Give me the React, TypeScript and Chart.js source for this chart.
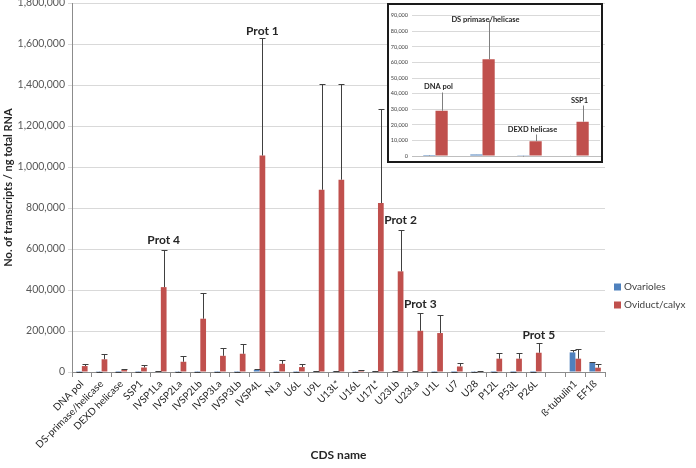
import React, { useEffect, useRef } from "react";
import { Chart, registerables } from "chart.js";
Chart.register(...registerables);

const FONT = "Lato, 'Open Sans', sans-serif";
const BLUE = "#4F81BD";
const RED = "#C0504D";

const categories = [
  "DNA pol", "DS-primase/helicase", "DEXD helicase", "SSP1", "IVSP1La", "IVSP2La", "IVSP2Lb",
  "IVSP3La", "IVSP3Lb", "IVSP4L", "NLa", "U6L", "U9L", "U13L*", "U16L", "U17L*", "U23Lb",
  "U23La", "U1L", "U7", "U28", "P12L", "P53L", "P26L", "", "ß-tubulin1", "EF1ß",
];
const ovarioles = [
  600, 900, 100, 400, 4000, 1000, 500, 500, 500, 10000, 500, 500, 5000, 5000, 1000, 5000, 3000,
  3000, 500, 200, 1000, 200, 200, 200, 0, 95600, 44000,
];
const ovariolesErrTop = [
  800, 1200, 150, 500, 5000, 1300, 700, 700, 700, 14000, 700, 700, 7000, 7000, 1500, 7000, 4000,
  4000, 700, 300, 1500, 300, 300, 300, 0, 107000, 50000,
];
const oviduct = [
  29000, 62000, 9500, 22000, 414000, 50000, 260000, 79000, 89000, 1056000, 40000, 24000, 889000,
  938000, 7000, 824000, 491000, 201000, 190000, 27000, 2500, 65000, 65000, 94000, 0, 65000, 21000,
];
const oviductErrTop = [
  41000, 87000, 14000, 33000, 597000, 76000, 385000, 117000, 138000, 1627000, 60000, 37000,
  1406000, 1406000, 12000, 1283000, 693000, 288000, 276000, 44000, 3500, 93000, 92000, 141000, 0,
  114000, 37000,
];

const protLabels = ["Prot 1", "Prot 4", "Prot 2", "Prot 3", "Prot 5"];
const protCategory = ["IVSP4L", "IVSP1La", "U23Lb", "U23La", "P26L"];
const protValue = [1665000, 645000, 743000, 333000, 182000];

const insetCategories = ["DNA pol", "DS primase/helicase", "DEXD helicase", "SSP1"];
const insetOvarioles = [600, 900, 100, 400];
const insetOvariolesErrTop = [800, 1200, 150, 500];
const insetOviduct = [29000, 62000, 9500, 22000];
const insetOviductErrTop = [41000, 87000, 14000, 33000];
const insetLabelValue = [44300, 87200, 16700, 35300];

const yTicksMain = { min: 0, max: 1800000, step: 200000 };
const yTicksInset = { min: 0, max: 90000, step: 10000 };

function makeErrorPlugin(errs: number[][], cap: number, color: string) {
  return {
    id: "errbars",
    afterDatasetsDraw(chart: any) {
      const ctx = chart.ctx;
      const ys = chart.scales.y;
      chart.data.datasets.forEach((ds: any, i: number) => {
        const meta = chart.getDatasetMeta(i);
        meta.data.forEach((el: any, j: number) => {
          const top = errs[i][j];
          const v = ds.data[j];
          if (!top || top <= v) return;
          const x = Math.round(el.x) + 0.5;
          const y0 = ys.getPixelForValue(v);
          const y1 = Math.round(ys.getPixelForValue(top)) + 0.5;
          ctx.save();
          ctx.strokeStyle = color;
          ctx.lineWidth = 1;
          ctx.beginPath();
          ctx.moveTo(x, y0);
          ctx.lineTo(x, y1);
          ctx.moveTo(x - cap, y1);
          ctx.lineTo(x + cap, y1);
          ctx.stroke();
          ctx.restore();
        });
      });
    },
  };
}

export default function App() {
  const mainRef = useRef<HTMLCanvasElement>(null);
  const insetRef = useRef<HTMLCanvasElement>(null);

  useEffect(() => {
    document.body.style.margin = "0";
    const fmt = (v: any) => Number(v).toLocaleString("en-US");

    const mainLabels = {
      id: "mainLabels",
      afterDraw(chart: any) {
        const ctx = chart.ctx;
        const ys = chart.scales.y;
        const meta = chart.getDatasetMeta(1);
        ctx.save();
        ctx.font = `bold 12px ${FONT}`;
        ctx.fillStyle = "#262626";
        ctx.textAlign = "center";
        ctx.textBaseline = "middle";
        protLabels.forEach((t, k) => {
          const idx = categories.indexOf(protCategory[k]);
          const x = meta.data[idx].x;
          ctx.fillText(t, x, ys.getPixelForValue(protValue[k]));
        });
        const items = [
          { t: "Ovarioles", c: BLUE },
          { t: "Oviduct/calyx", c: RED },
        ];
        ctx.font = `10px ${FONT}`;
        ctx.textAlign = "left";
        items.forEach((it, k) => {
          const yy = 287 + k * 18;
          ctx.fillStyle = it.c;
          ctx.fillRect(614, yy - 3.5, 7, 7);
          ctx.fillStyle = "#404040";
          ctx.fillText(it.t, 624, yy);
        });
        ctx.restore();
      },
    };

    const main = new Chart(mainRef.current as HTMLCanvasElement, {
      type: "bar",
      data: {
        labels: categories,
        datasets: [
          { label: "Ovarioles", data: ovarioles, backgroundColor: BLUE, categoryPercentage: 0.58, barPercentage: 1 },
          { label: "Oviduct/calyx", data: oviduct, backgroundColor: RED, categoryPercentage: 0.58, barPercentage: 1 },
        ],
      },
      options: {
        animation: false,
        responsive: false,
        devicePixelRatio: 1,
        layout: { padding: { left: 0, right: 91, top: 3, bottom: 0 } },
        plugins: { legend: { display: false }, tooltip: { enabled: false } },
        scales: {
          x: {
            offset: true,
            afterFit: (s: any) => {
              s.height = 96;
              s.paddingLeft = 0;
              s.paddingRight = 0;
            },
            grid: { display: true, drawOnChartArea: false, offset: true, tickLength: 5, color: "#8c8c8c" },
            border: { color: "#8c8c8c" },
            ticks: { autoSkip: false, maxRotation: 45, minRotation: 45, font: { family: FONT, size: 10 }, color: "#262626", padding: 1 },
            title: { display: true, text: "CDS name", font: { family: FONT, size: 12, weight: "bold" }, color: "#262626", padding: { top: 0, bottom: 6 } },
          },
          y: {
            min: yTicksMain.min,
            max: yTicksMain.max,
            afterFit: (s: any) => {
              s.width = 72;
              s.paddingTop = 0;
              s.paddingBottom = 0;
            },
            ticks: { stepSize: yTicksMain.step, callback: fmt, font: { family: FONT, size: 10.5 }, color: "#595959", padding: 3 },
            grid: { color: "#d9d9d9", tickLength: 4 },
            border: { color: "#8c8c8c" },
            title: { display: true, text: "No. of transcripts / ng total RNA", font: { family: FONT, size: 11, weight: "bold" }, color: "#262626", padding: { top: 2, bottom: 0 } },
          },
        },
      },
      plugins: [makeErrorPlugin([ovariolesErrTop, oviductErrTop], 3, "#404040"), mainLabels],
    } as any);

    const insetLabels = {
      id: "insetLabels",
      afterDraw(chart: any) {
        const ctx = chart.ctx;
        const ys = chart.scales.y;
        const xs = chart.scales.x;
        ctx.save();
        ctx.font = `bold 7.5px ${FONT}`;
        ctx.fillStyle = "#262626";
        ctx.textAlign = "center";
        ctx.textBaseline = "middle";
        insetCategories.forEach((t, k) => {
          ctx.fillText(t, xs.getPixelForValue(k) + 3, ys.getPixelForValue(insetLabelValue[k]));
        });
        ctx.restore();
      },
    };

    const inset = new Chart(insetRef.current as HTMLCanvasElement, {
      type: "bar",
      data: {
        labels: insetCategories,
        datasets: [
          { label: "Ovarioles", data: insetOvarioles, backgroundColor: BLUE, categoryPercentage: 0.52, barPercentage: 1 },
          { label: "Oviduct/calyx", data: insetOviduct, backgroundColor: RED, categoryPercentage: 0.52, barPercentage: 1 },
        ],
      },
      options: {
        animation: false,
        responsive: false,
        devicePixelRatio: 1,
        layout: { padding: { left: 0, right: 1, top: 10.7, bottom: 5 } },
        plugins: { legend: { display: false }, tooltip: { enabled: false } },
        scales: {
          x: {
            offset: true,
            afterFit: (s: any) => {
              s.height = 0;
              s.paddingLeft = 0;
              s.paddingRight = 0;
            },
            grid: { display: false },
            border: { color: "#bfbfbf" },
            ticks: { display: false },
          },
          y: {
            min: yTicksInset.min,
            max: yTicksInset.max,
            afterFit: (s: any) => {
              s.width = 23;
              s.paddingTop = 0;
              s.paddingBottom = 0;
            },
            ticks: { stepSize: yTicksInset.step, callback: fmt, font: { family: FONT, size: 5.5 }, color: "#404040", padding: 4 },
            grid: { color: "#d9d9d9", tickLength: 0 },
            border: { display: false },
          },
        },
      },
      plugins: [makeErrorPlugin([insetOvariolesErrTop, insetOviductErrTop], 0, "#7f7f7f"), insetLabels],
    } as any);

    return () => {
      main.destroy();
      inset.destroy();
    };
  }, []);

  return (
    <div style={{ position: "relative", width: 696, height: 468, overflow: "hidden", background: "#fff" }}>
      <canvas ref={mainRef} width={696} height={468} style={{ position: "absolute", left: 0, top: 0 }} />
      <div
        style={{
          position: "absolute",
          left: 387,
          top: 3,
          width: 216,
          height: 160,
          boxSizing: "border-box",
          border: "2px solid #1a1a1a",
          background: "#fff",
        }}
      >
        <canvas ref={insetRef} width={212} height={156} style={{ display: "block" }} />
      </div>
    </div>
  );
}
